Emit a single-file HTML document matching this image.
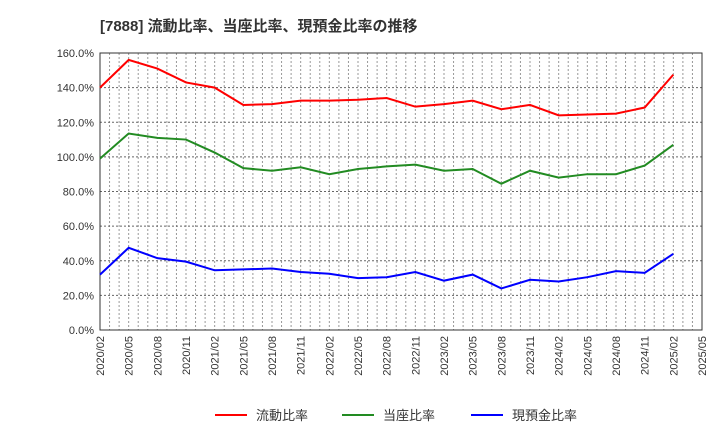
<!DOCTYPE html>
<html><head><meta charset="utf-8"><style>body{margin:0;background:#fff}svg{display:block}text{font-family:"Liberation Sans","Noto Sans CJK JP",sans-serif}</style></head>
<body>
<svg id="c" width="720" height="440">
<text x="100" y="31" font-size="15" font-weight="bold" fill="#333">[7888]  流動比率、当座比率、現預金比率の推移</text>
</svg>
<script>
const xLabels=["2020/02","2020/05","2020/08","2020/11","2021/02","2021/05","2021/08","2021/11","2022/02","2022/05","2022/08","2022/11","2023/02","2023/05","2023/08","2023/11","2024/02","2024/05","2024/08","2024/11","2025/02","2025/05"];
const yTicks=[0,20,40,60,80,100,120,140,160];
const seriesNames=["流動比率","当座比率","現預金比率"];
const current=[140,156,151,143,140,130,130.5,132.5,132.5,133,134,129,130.5,132.5,127.5,130,124,124.5,125,128.5,147.5];
const quick=[99,113.5,111,110,102.5,93.5,92,94,90,93,94.5,95.5,92,93,84.5,92,88,90,90,95,107];
const cash=[32,47.5,41.5,39.5,34.5,35,35.5,33.5,32.5,30,30.5,33.5,28.5,32,24,29,28,30.5,34,33,44];
const colors=["#ff0000","#228b22","#0000ff"];
const L=100,R=702,T=53,B=330;
const svg=document.getElementById('c');const NS="http://www.w3.org/2000/svg";
const xs=i=>L+(R-L)*i/(xLabels.length-1);
const ys=v=>B-(B-T)*v/160;
function mk(t,a,p){const e=document.createElementNS(NS,t);for(const k in a)e.setAttribute(k,a[k]);(p||svg).appendChild(e);return e;}
// monthly vertical grid
const months=(xLabels.length-1)*3;
for(let m=1;m<months;m++){const x=L+(R-L)*m/months;
const g=mk('line',{x1:x,x2:x,y1:T,y2:B,stroke:'#999','stroke-dasharray':'2,2','stroke-width':1});

}
yTicks.forEach(v=>{const y=ys(v);
const g=mk('line',{x1:L,x2:R,y1:y,y2:y,stroke:'#666','stroke-dasharray':'2,2','stroke-width':1});


const t=mk('text',{x:L-6,y:y+4,'text-anchor':'end','font-size':11,fill:'#333'});t.textContent=v.toFixed(1)+'%';

});
xLabels.forEach((s,i)=>{const x=xs(i);
const t=mk('text',{transform:`translate(${x+4},${B+6}) rotate(-90)`,'text-anchor':'end','font-size':11,fill:'#333'});t.textContent=s;

});
const f=mk('rect',{x:L,y:T,width:R-L,height:B-T,fill:'none',stroke:'#333','stroke-width':1});


[current,quick,cash].forEach((d,k)=>{
const p=mk('polyline',{points:d.map((v,i)=>xs(i)+','+ys(v)).join(' '),fill:'none',stroke:colors[k],'stroke-width':2});

});
const lx=[215,342,471];
seriesNames.forEach((n,k)=>{
const l=mk('line',{x1:lx[k],x2:lx[k]+32,y1:415,y2:415,stroke:colors[k],'stroke-width':2});


const t=mk('text',{x:lx[k]+41,y:420,'font-size':13,fill:'#333'});t.textContent=n;

});
</script>
</body></html>
